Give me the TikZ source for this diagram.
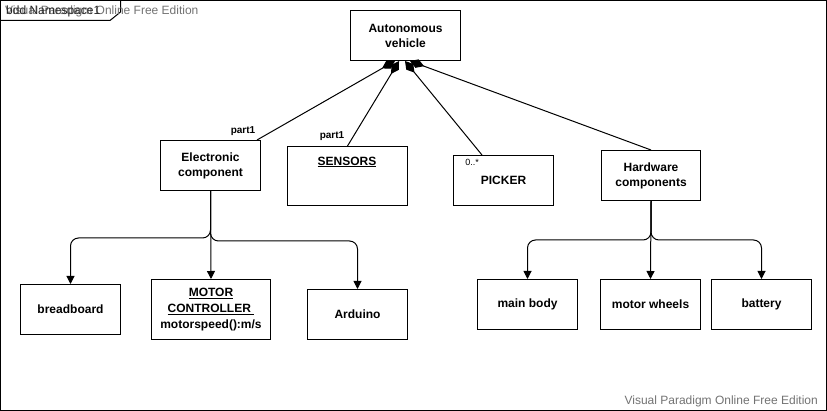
\documentclass[tikz,border=0pt]{standalone}
\usepackage{fontspec}
\setmainfont{Liberation Sans}
\usetikzlibrary{arrows.meta}
\begin{document}
\begin{tikzpicture}[x=1pt,y=-1pt,
  blk/.style={draw=black, line width=1pt, fill=white, anchor=north west, inner sep=0pt, align=center,
    font=\bfseries\fontsize{12}{15}\selectfont},
  txt/.style={inner sep=0pt, align=center, font=\bfseries\fontsize{12}{15}\selectfont},
  sml/.style={inner sep=0pt, font=\bfseries\fontsize{10}{12}\selectfont},
  wm/.style={inner sep=0pt, text=black!55, font=\fontsize{12}{14}\selectfont},
  arr/.style={draw=black, line width=1pt, rounded corners=8pt, -{Triangle[length=8pt,width=8pt]}},
  comp/.style={draw=black, line width=1pt, -{Diamond[length=15pt,width=9pt]}}
]
\useasboundingbox (0,0) rectangle (827,411);
\fill[white] (0,0) rectangle (827,411);
\draw[line width=1pt] (0.5,0.5) rectangle (826.5,410.5);
\draw[line width=1pt] (0.5,20.5) -- (110,20.5) -- (120.5,12) -- (120.5,0.5);
\node[wm, anchor=west] (wm1) at (5,11) {Visual Paradigm Online Free Edition};
\node[wm, text=black!85, anchor=west] (ns) at (6,11) {bdd Namespace1};
\node[wm, anchor=east] (wm2) at (818,401) {Visual Paradigm Online Free Edition};

% top
\node[blk, minimum width=110pt, minimum height=50pt] (av) at (350,10) {Autonomous\\vehicle};

% middle row
\node[blk, minimum width=100pt, minimum height=50pt] (ec) at (160,140) {Electronic\\component};
\node[blk, minimum width=120pt, minimum height=59pt] (sens) at (287,146) {};
\node[txt] (senst) at (347,162) {\underline{SENSORS}};
\node[blk, minimum width=100pt, minimum height=50pt] (pk) at (453,155) {PICKER};
\node[inner sep=0pt, font=\fontsize{9}{10}\selectfont] (mult) at (472,162) {0..*};
\node[blk, minimum width=99pt, minimum height=50pt] (hw) at (601,150) {Hardware\\components};

% labels
\node[sml] (p1) at (243,131) {part1};
\node[sml] (p2) at (332,136) {part1};

% bottom row
\node[blk, minimum width=100pt, minimum height=50pt] (bb) at (20,284) {breadboard};
\node[blk, minimum width=119pt, minimum height=60pt, font=\bfseries\fontsize{12}{16}\selectfont] (mc) at (151,279) {\underline{MOTOR}\\\underline{CONTROLLER\ }\\motorspeed():m/s};
\node[blk, minimum width=100pt, minimum height=50pt] (ard) at (307,289) {Arduino};
\node[blk, minimum width=100pt, minimum height=50pt] (mb) at (477,279) {main body};
\node[blk, minimum width=100pt, minimum height=50pt] (mw) at (600,279) {motor wheels};
\node[blk, minimum width=100pt, minimum height=50pt] (bat) at (711,279) {battery};

% composition connectors
\coordinate (e1) at (257,140);
\coordinate (k1) at (482,155);
\coordinate (a1) at (395,61);
\coordinate (a2) at (399,61);
\coordinate (a3) at (405,61);
\coordinate (a4) at (410,61);
\draw[comp] (e1) -- (a1);
\draw[comp] (sens.north) -- (a2);
\draw[comp] (k1) -- (a3);
\draw[comp] (hw.north) -- (a4);

% tree connectors
\draw[arr] (ec.south) -- ++(0,47) -| (bb.north);
\draw[arr] (ec.south) -- (mc.north);
\draw[arr] (ec.south) -- ++(0,50) -| (ard.north);
\draw[arr] (hw.south) -- ++(0,39) -| (mb.north);
\draw[arr] (hw.south) -- (mw.north);
\draw[arr] (hw.south) -- ++(0,39) -| (bat.north);
\end{tikzpicture}
\end{document}
